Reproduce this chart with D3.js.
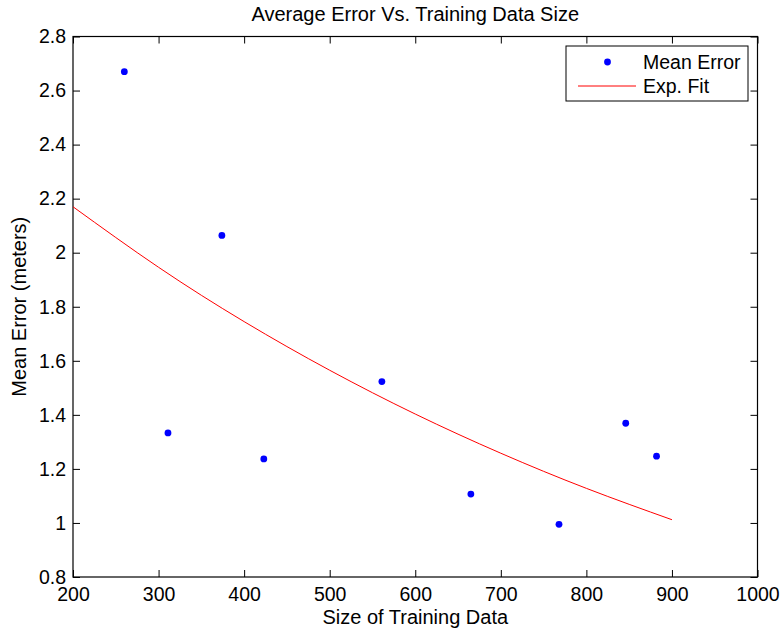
<!DOCTYPE html>
<html>
<head>
<meta charset="utf-8">
<script src="https://cdn.jsdelivr.net/npm/d3@7"></script>
<style>
  body { margin: 0; background: #fff; }
  text { font-family: "Liberation Sans", Arial, Helvetica, sans-serif; fill: #000; }
</style>
</head>
<body>
<svg id="chart" width="782" height="633"></svg>
<script>
// measured points (training data size vs mean error)
var sizes = [260, 311, 374, 423, 561, 665, 768, 846, 882];
var meanErrors = [2.67, 1.333, 2.064, 1.237, 1.523, 1.107, 0.995, 1.369, 1.247];

// exponential fit curve
var fitSizes = [200, 300, 400, 500, 600, 700, 800, 900];
var fitErrors = [2.170, 1.946, 1.745, 1.565, 1.403, 1.258, 1.128, 1.012];

var xTicks = [200, 300, 400, 500, 600, 700, 800, 900, 1000];
var yTicks = [0.8, 1, 1.2, 1.4, 1.6, 1.8, 2, 2.2, 2.4, 2.6, 2.8];

var m = { left: 73, top: 36.5, right: 757.5, bottom: 577 };
var fontSize = 19.5;
var labelSize = 20;
var tickLen = 7;

var svg = d3.select("#chart");

var x = d3.scaleLinear().domain([200, 1000]).range([m.left, m.right]);
var y = d3.scaleLinear().domain([0.8, 2.8]).range([m.bottom, m.top]);

// axes, ticks pointing inward like matlab
var xAxisB = d3.axisBottom(x).tickValues(xTicks).tickSizeInner(-tickLen).tickSizeOuter(0).tickPadding(10).tickFormat(d3.format("d"))
var xAxisT = d3.axisTop(x).tickValues(xTicks).tickSizeInner(-tickLen).tickSizeOuter(0).tickFormat("")
var yAxisL = d3.axisLeft(y).tickValues(yTicks).tickSizeInner(-tickLen).tickSizeOuter(0).tickPadding(7).tickFormat(d3.format("~g"))
var yAxisR = d3.axisRight(y).tickValues(yTicks).tickSizeInner(-tickLen).tickSizeOuter(0).tickFormat("")

function styleAxis(g) {
  g.select(".domain").remove();
  g.selectAll("line").attr("stroke", "#000").attr("stroke-width", 1);
  g.selectAll("text").style("font-size", fontSize + "px").attr("fill", "#000");
}

svg.append("g").attr("transform", "translate(0," + m.bottom + ")").call(xAxisB).call(styleAxis);
svg.append("g").attr("transform", "translate(0," + m.top + ")").call(xAxisT).call(styleAxis);
svg.append("g").attr("transform", "translate(" + m.left + ",0)").call(yAxisL).call(styleAxis);
svg.append("g").attr("transform", "translate(" + m.right + ",0)").call(yAxisR).call(styleAxis);

svg.selectAll(".tick text").attr("font-family", null);

// frame
svg.append("rect")
  .attr("x", m.left).attr("y", m.top)
  .attr("width", m.right - m.left).attr("height", m.bottom - m.top)
  .attr("fill", "none").attr("stroke", "#000").attr("stroke-width", 1.2);

// fit line
var line = d3.line()
  .x(function(d, i) { return x(fitSizes[i]); })
  .y(function(d) { return y(d); })
  .curve(d3.curveNatural);

svg.append("path")
  .datum(fitErrors)
  .attr("d", line)
  .attr("fill", "none")
  .attr("stroke", "#ff0000")
  .attr("stroke-width", 1);

// points
svg.append("g").selectAll("circle")
  .data(sizes)
  .enter().append("circle")
  .attr("cx", function(d) { return x(d); })
  .attr("cy", function(d, i) { return y(meanErrors[i]); })
  .attr("r", 3.4)
  .attr("fill", "#0000ff");

// title + labels
svg.append("text")
  .attr("x", (m.left + m.right) / 2).attr("y", 21)
  .attr("text-anchor", "middle")
  .style("font-size", labelSize + "px")
  .text("Average Error Vs. Training Data Size");

svg.append("text")
  .attr("x", (m.left + m.right) / 2).attr("y", 624)
  .attr("text-anchor", "middle")
  .style("font-size", labelSize + "px")
  .text("Size of Training Data");

svg.append("text")
  .attr("transform", "translate(26," + ((m.top + m.bottom) / 2) + ") rotate(-90)")
  .attr("text-anchor", "middle")
  .style("font-size", labelSize + "px")
  .text("Mean Error (meters)");

// legend
var lg = svg.append("g");
lg.append("rect")
  .attr("x", 566).attr("y", 46).attr("width", 182).attr("height", 55)
  .attr("fill", "#fff").attr("stroke", "#000").attr("stroke-width", 1);
lg.append("circle").attr("cx", 607.5).attr("cy", 62).attr("r", 3.4).attr("fill", "#0000ff");
lg.append("line").attr("x1", 578).attr("x2", 636).attr("y1", 86).attr("y2", 86)
  .attr("stroke", "#ff0000").attr("stroke-width", 1);
lg.append("text").attr("x", 643).attr("y", 62).attr("dy", "0.35em")
  .style("font-size", fontSize + "px").text("Mean Error");
lg.append("text").attr("x", 643).attr("y", 86).attr("dy", "0.35em")
  .style("font-size", fontSize + "px").text("Exp. Fit");
</script>
</body>
</html>
